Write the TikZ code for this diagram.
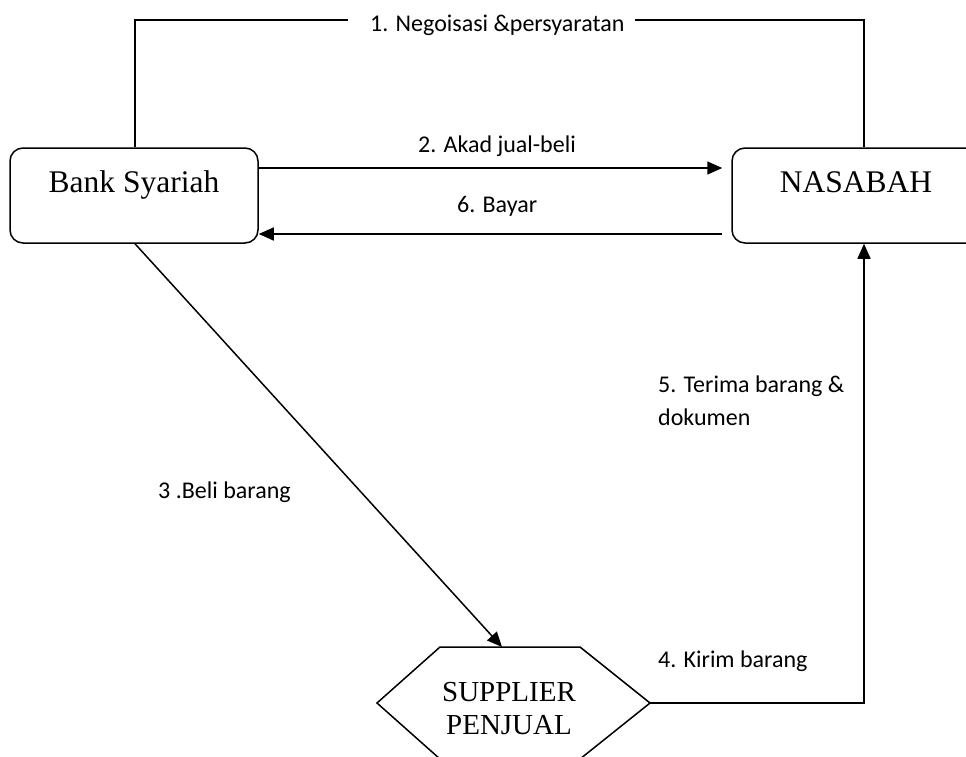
\documentclass[tikz,border=0pt]{standalone}
\usepackage{fontspec}
\setmainfont{Liberation Serif}
\newfontfamily\labfont{Carlito}
\usetikzlibrary{arrows.meta}
\tikzset{
  line/.style={line width=1.5pt},
  arr/.style={line width=1.5pt,-{Triangle[length=15pt,width=13pt]}},
  partybox/.style={draw,line width=1.5pt,rounded corners=13pt,minimum width=248pt,
    inner sep=0pt,text height=44pt,text depth=51pt,font=\fontsize{31.5}{36}\selectfont},
  lab/.style={font=\labfont\fontsize{24}{28}\selectfont,inner sep=0pt,anchor=base west},
}
\begin{document}
\begin{tikzpicture}[x=1pt,y=-1pt]
\useasboundingbox (0,0) rectangle (966,756);
% parties
\node[partybox] (bank) at (134,195.5) {Bank Syariah};
\node[partybox] (nasabah) at (856,195.5) {NASABAH};
% supplier hexagon
\coordinate (supL) at (377,703);
\coordinate (supTL) at (440,647);
\coordinate (supTR) at (580,647);
\coordinate (supR) at (650,703);
\coordinate (supBR) at (580,759);
\coordinate (supBL) at (440,759);
\draw[line] (supL) -- (supTL) -- (supTR) -- (supR) -- (supBR) -- (supBL) -- cycle;
\node[align=center,inner sep=0pt,font=\fontsize{29}{33}\selectfont] (sup) at (509,709) {SUPPLIER\\PENJUAL};
\coordinate (supIn) at (502,647);
% helper coordinates
\coordinate (rx) at (864,703);
\coordinate (g1) at (348,20);
\coordinate (g2) at (635,20);
% labels
\node[lab] (lab1) at (370,31) {1. Negoisasi \&persyaratan};
\node[lab] (lab2) at (418,152) {2. Akad jual-beli};
\node[lab] (lab6) at (457,212) {6. Bayar};
\node[lab] (lab5a) at (658,392) {5. Terima barang \&};
\node[lab] (lab5b) at (658,425) {dokumen};
\node[lab] (lab3) at (158,498) {3 .Beli barang};
\node[lab] (lab4) at (658,667) {4. Kirim barang};
% connectors
\draw[line] ([xshift=1pt]bank.north) |- (g1);
\draw[line] (g2) -| (rx |- nasabah.north);
\draw[arr] ([yshift=27.5pt]bank.east) -- ([yshift=27.5pt,xshift=-9pt]nasabah.west);
\draw[arr] ([yshift=-38.5pt,xshift=-9pt]nasabah.west) -- ([yshift=-38.5pt]bank.east);
\draw[arr] ([xshift=1pt]bank.south) -- (supIn);
\draw[arr] (supR) -- (rx) -- (rx |- nasabah.south);
\end{tikzpicture}
\end{document}
